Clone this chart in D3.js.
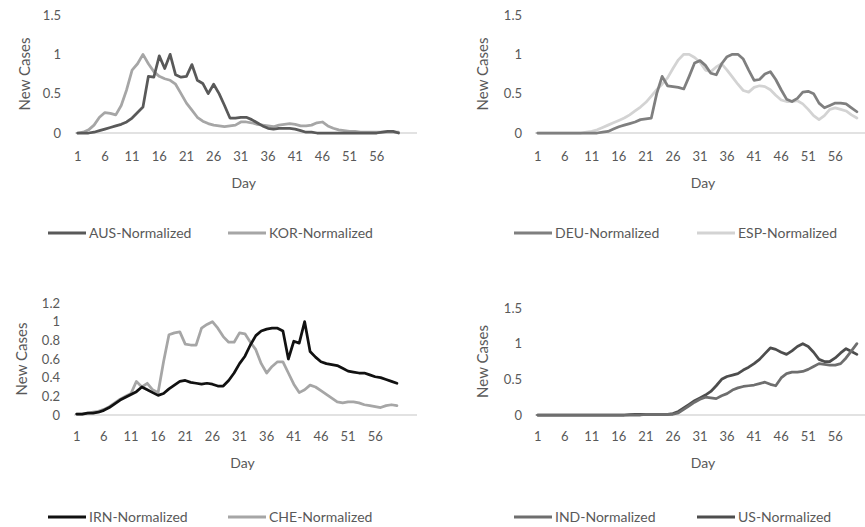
<!DOCTYPE html>
<html>
<head>
<meta charset="utf-8">
<script src="https://cdn.jsdelivr.net/npm/d3@7"></script>
<style>
  html, body { margin: 0; padding: 0; background: #fff; }
  svg { display: block; }
</style>
</head>
<body>
<svg id="chart" width="865" height="527"></svg>
<script>
// ---------------- DATA ----------------
const days = d3.range(1, 61);
const xTickLabels = [1, 6, 11, 16, 21, 26, 31, 36, 41, 46, 51, 56];

const AUS = [0,0,0,0.01,0.03,0.05,0.07,0.09,0.11,0.14,0.19,0.26,0.33,0.72,0.71,0.98,0.82,1.0,0.74,0.71,
  0.72,0.87,0.67,0.63,0.5,0.62,0.5,0.35,0.19,0.19,0.2,0.2,0.17,0.13,0.09,0.06,0.05,0.06,0.06,0.06,
  0.05,0.03,0.01,0.01,0,0,0,0,0,0,0,0,0,0,0,0,0.01,0.02,0.02,0];
const KOR = [0,0.01,0.04,0.1,0.2,0.26,0.25,0.23,0.35,0.55,0.8,0.88,1.0,0.88,0.78,0.72,0.69,0.67,0.62,0.5,
  0.38,0.29,0.2,0.15,0.12,0.1,0.09,0.08,0.09,0.1,0.14,0.14,0.13,0.11,0.1,0.09,0.08,0.1,0.11,0.12,
  0.11,0.09,0.09,0.1,0.13,0.14,0.09,0.06,0.04,0.03,0.02,0.02,0.01,0.01,0.01,0.01,0.01,0.01,0.01,0.01];

const DEU = [0,0,0,0,0,0,0,0,0,0,0,0,0.01,0.02,0.05,0.08,0.1,0.12,0.14,0.17,
  0.18,0.19,0.5,0.72,0.6,0.59,0.58,0.56,0.72,0.89,0.92,0.86,0.76,0.74,0.88,0.97,1.0,1.0,0.94,0.8,
  0.67,0.68,0.75,0.78,0.68,0.55,0.43,0.4,0.44,0.52,0.53,0.5,0.38,0.32,0.35,0.38,0.38,0.37,0.32,0.27];
const ESP = [0,0,0,0,0,0,0,0,0,0.01,0.02,0.04,0.07,0.1,0.13,0.16,0.19,0.23,0.28,0.33,
  0.39,0.47,0.55,0.62,0.7,0.82,0.93,1.0,1.0,0.96,0.9,0.8,0.78,0.84,0.88,0.8,0.71,0.62,0.54,0.52,
  0.58,0.6,0.59,0.55,0.48,0.42,0.4,0.4,0.41,0.37,0.3,0.22,0.17,0.22,0.3,0.32,0.3,0.28,0.23,0.19];

const IRN = [0.01,0.01,0.02,0.02,0.03,0.05,0.08,0.12,0.16,0.19,0.22,0.25,0.3,0.27,0.24,0.21,0.23,0.28,0.32,0.36,
  0.37,0.35,0.34,0.33,0.34,0.33,0.31,0.31,0.37,0.45,0.55,0.63,0.75,0.85,0.9,0.92,0.93,0.93,0.9,0.6,
  0.79,0.77,1.0,0.68,0.62,0.57,0.55,0.54,0.53,0.5,0.47,0.46,0.45,0.45,0.43,0.41,0.4,0.38,0.36,0.34];
const CHE = [0.01,0.01,0.02,0.03,0.04,0.06,0.09,0.13,0.17,0.2,0.23,0.36,0.3,0.34,0.27,0.24,0.57,0.86,0.88,0.89,
  0.76,0.75,0.75,0.93,0.97,1.0,0.93,0.84,0.78,0.78,0.88,0.87,0.78,0.7,0.55,0.45,0.52,0.57,0.57,0.45,
  0.33,0.24,0.27,0.32,0.3,0.26,0.22,0.18,0.14,0.13,0.14,0.14,0.13,0.11,0.1,0.09,0.08,0.1,0.11,0.1];

const IND = [0,0,0,0,0,0,0,0,0,0,0,0,0,0,0,0,0,0,0,0,
  0.01,0.01,0.01,0.01,0.01,0.01,0.03,0.08,0.13,0.18,0.22,0.25,0.24,0.23,0.27,0.3,0.35,0.38,0.4,0.41,
  0.42,0.44,0.46,0.43,0.41,0.52,0.58,0.6,0.6,0.61,0.64,0.68,0.72,0.71,0.7,0.7,0.72,0.8,0.9,1.0];
const US = [0,0,0,0,0,0,0,0,0,0,0,0,0,0,0,0,0,0.005,0.01,0.01,
  0.01,0.01,0.01,0.01,0.01,0.02,0.05,0.1,0.15,0.2,0.24,0.28,0.33,0.41,0.5,0.54,0.56,0.58,0.63,0.67,
  0.72,0.78,0.86,0.94,0.92,0.88,0.85,0.9,0.96,1.0,0.96,0.88,0.78,0.75,0.75,0.8,0.87,0.93,0.89,0.85];

const yTicks15 = [0, 0.5, 1, 1.5];
const yTicks12 = [0, 0.2, 0.4, 0.6, 0.8, 1, 1.2];

// ---------------- LAYOUT ----------------
const svg = d3.select("#chart");
const FONT = "Lato, 'Open Sans', sans-serif";
const TXT = "#595959";

const panels = [
  { left: 75, right: 417, dayEnd: 63.4, top: 15, bottom: 133, ymax: 1.5, yticks: yTicks15,
    yLabelX: 61, titleX: 25, dayY: 188, tickY: 161, legendY: 233,
    series: [{name: "AUS-Normalized", data: AUS, color: "#595959"},
             {name: "KOR-Normalized", data: KOR, color: "#a6a6a6"}], legendX: [48, 228] },
  { left: 535, right: 865, dayEnd: 61.5, top: 15, bottom: 133, ymax: 1.5, yticks: yTicks15,
    yLabelX: 522, titleX: 483, dayY: 188, tickY: 161, legendY: 233,
    series: [{name: "DEU-Normalized", data: DEU, color: "#7f7f7f"},
             {name: "ESP-Normalized", data: ESP, color: "#d3d3d3"}], legendX: [514, 697] },
  { left: 74, right: 417, dayEnd: 63.7, top: 303, bottom: 415, ymax: 1.2, yticks: yTicks12,
    yLabelX: 60, titleX: 22, dayY: 468, tickY: 441, legendY: 517,
    series: [{name: "IRN-Normalized", data: IRN, color: "#111111"},
             {name: "CHE-Normalized", data: CHE, color: "#a6a6a6"}], legendX: [48, 228] },
  { left: 535, right: 865, dayEnd: 61.5, top: 308, bottom: 415, ymax: 1.5, yticks: yTicks15,
    yLabelX: 522, titleX: 483, dayY: 468, tickY: 441, legendY: 517,
    series: [{name: "IND-Normalized", data: IND, color: "#6e6e6e"},
             {name: "US-Normalized", data: US, color: "#4d4d4d"}], legendX: [514, 697] }
];

panels.forEach(p => {
  const x = d3.scaleLinear().domain([0.5, p.dayEnd]).range([p.left, p.right]);
  const y = d3.scaleLinear().domain([0, p.ymax]).range([p.bottom, p.top]);
  const g = svg.append("g");

  // baseline axis
  g.append("line")
    .attr("x1", p.left).attr("x2", p.right)
    .attr("y1", y(0)).attr("y2", y(0))
    .attr("stroke", "#d9d9d9").attr("stroke-width", 1.5);

  // y tick labels
  g.selectAll(".yt").data(p.yticks).enter().append("text")
    .attr("x", p.yLabelX).attr("y", d => y(d))
    .attr("dy", "0.35em").attr("text-anchor", "end")
    .attr("font-family", FONT).attr("font-size", 13).attr("fill", TXT)
    .text(d => d3.format("~g")(d));

  // x tick labels
  g.selectAll(".xt").data(xTickLabels).enter().append("text")
    .attr("x", d => x(d)).attr("y", p.tickY)
    .attr("text-anchor", "middle")
    .attr("font-family", FONT).attr("font-size", 13).attr("fill", TXT)
    .text(d => d);

  // axis titles
  g.append("text")
    .attr("transform", `translate(${p.titleX},${(p.top + p.bottom) / 2}) rotate(-90)`)
    .attr("dy", "0.35em").attr("text-anchor", "middle")
    .attr("font-family", FONT).attr("font-size", 15).attr("fill", TXT)
    .text("New Cases");
  g.append("text")
    .attr("x", x(31) + 3).attr("y", p.dayY)
    .attr("text-anchor", "middle")
    .attr("font-family", FONT).attr("font-size", 14).attr("fill", TXT)
    .text("Day");

  // lines
  const line = d3.line().x((d, i) => x(days[i])).y(d => y(d));
  [...p.series].reverse().forEach(s => {
    g.append("path").datum(s.data)
      .attr("d", line).attr("fill", "none")
      .attr("stroke", s.color).attr("stroke-width", 2.75)
      .attr("stroke-linejoin", "round").attr("stroke-linecap", "round");
  });

  // legend
  p.series.forEach((s, i) => {
    const lx = p.legendX[i];
    g.append("line")
      .attr("x1", lx).attr("x2", lx + 38)
      .attr("y1", p.legendY).attr("y2", p.legendY)
      .attr("stroke", s.color).attr("stroke-width", 3);
    g.append("text")
      .attr("x", lx + 41).attr("y", p.legendY).attr("dy", "0.35em")
      .attr("font-family", FONT)
      .attr("font-size", 14).attr("fill", TXT)
      .text(s.name);
  });
});
</script>
</body>
</html>
